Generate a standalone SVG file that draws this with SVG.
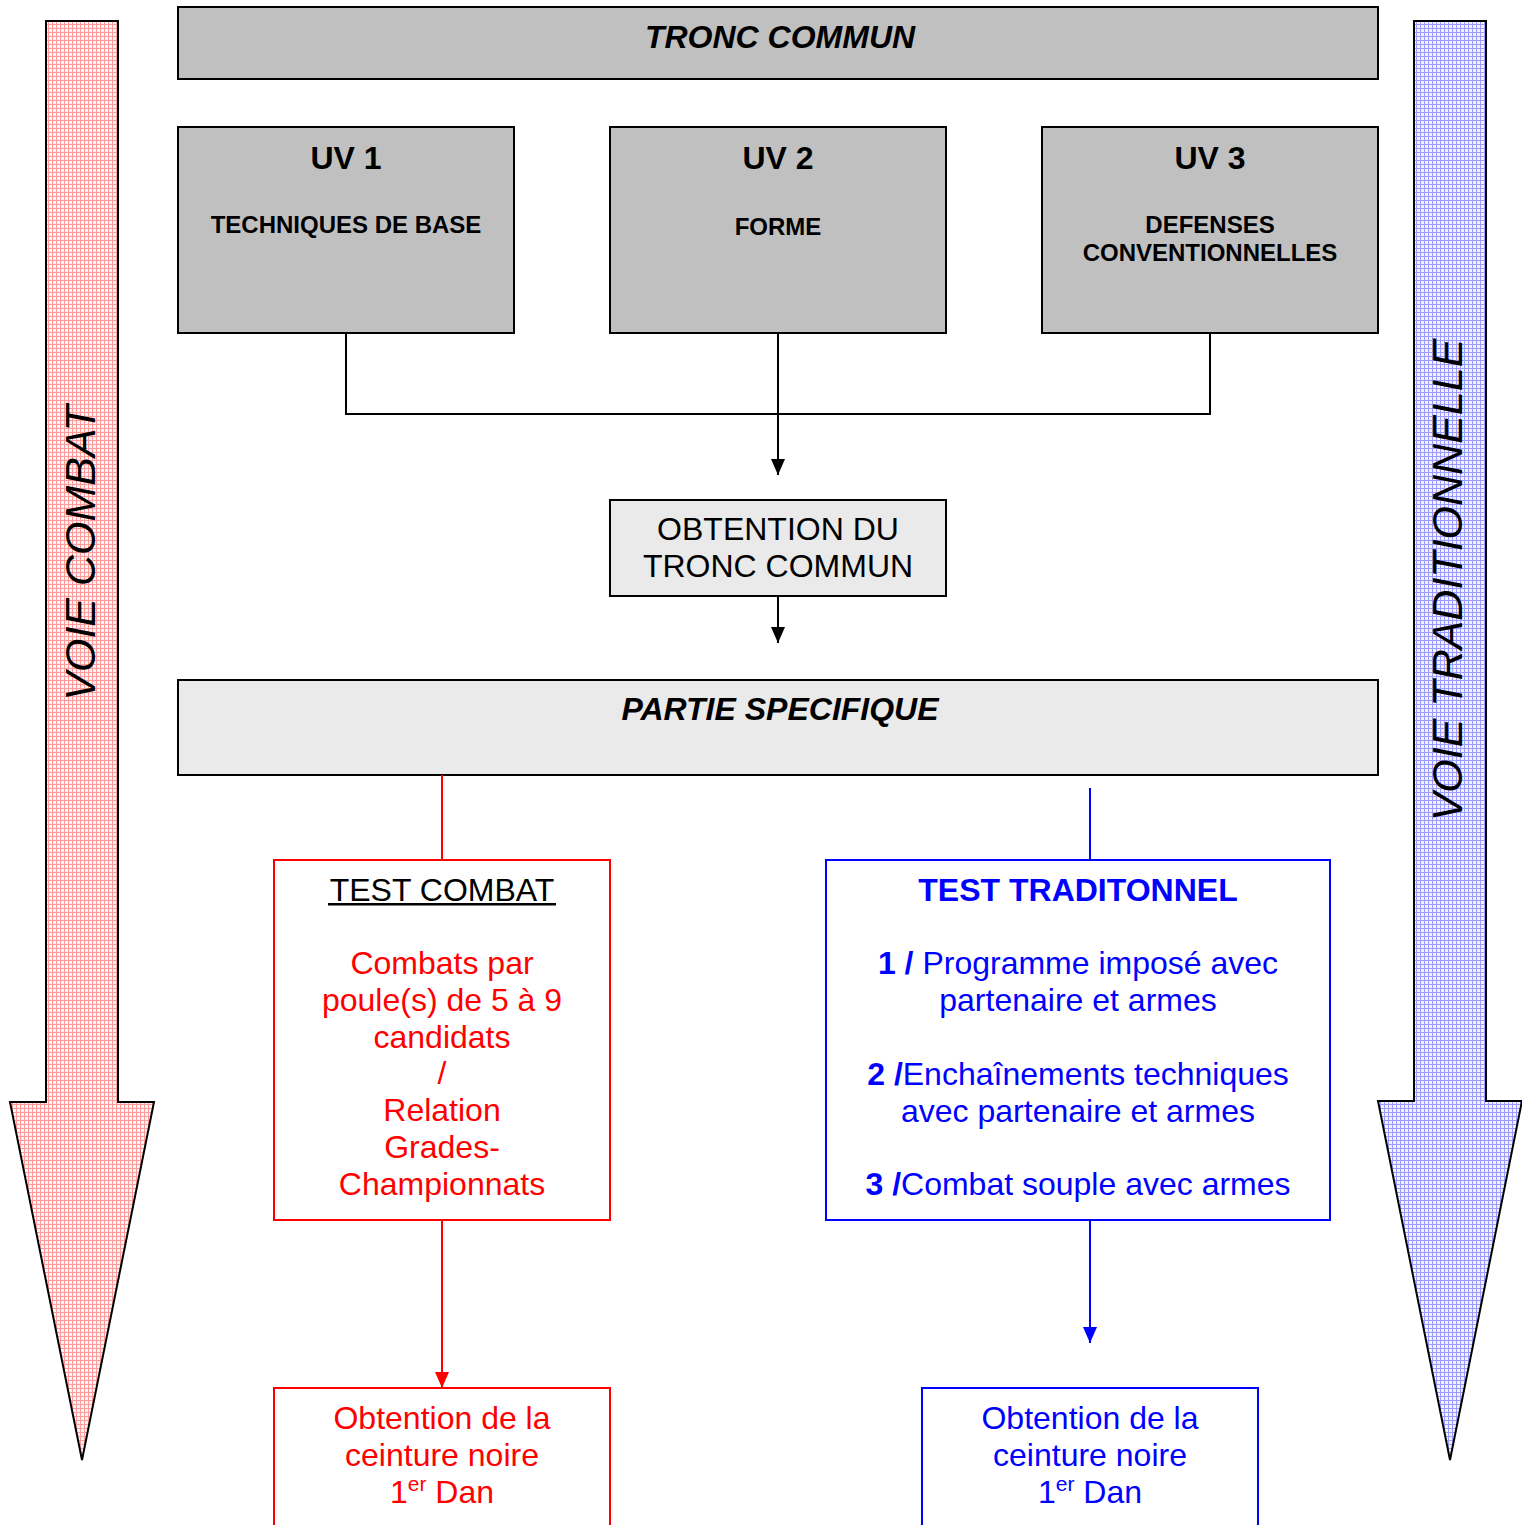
<svg xmlns="http://www.w3.org/2000/svg" width="1522" height="1525" viewBox="0 0 1522 1525">
<defs>
<pattern id="hatchR" width="4" height="4" patternUnits="userSpaceOnUse">
<rect width="4" height="4" fill="#fff2f2"/>
<rect x="0" y="0" width="4" height="1" fill="#ff9a9a"/>
<rect x="0" y="0" width="1" height="4" fill="#ff9a9a"/>
</pattern>
<pattern id="hatchB" width="4" height="4" patternUnits="userSpaceOnUse">
<rect width="4" height="4" fill="#f2f2ff"/>
<rect x="0" y="0" width="4" height="1" fill="#9a9aff"/>
<rect x="0" y="0" width="1" height="4" fill="#9a9aff"/>
</pattern>
<marker id="ak" markerWidth="14" markerHeight="16" refX="7" refY="16" markerUnits="userSpaceOnUse" viewBox="0 0 14 16">
<path d="M0,0 L14,0 L7,16 Z" fill="#000"/>
</marker>
<marker id="ar" markerWidth="14" markerHeight="16" refX="7" refY="16" markerUnits="userSpaceOnUse" viewBox="0 0 14 16">
<path d="M0,0 L14,0 L7,16 Z" fill="#ff0000"/>
</marker>
<marker id="ab" markerWidth="14" markerHeight="16" refX="7" refY="16" markerUnits="userSpaceOnUse" viewBox="0 0 14 16">
<path d="M0,0 L14,0 L7,16 Z" fill="#0000ff"/>
</marker>
</defs>
<style>
text{font-family:"Liberation Sans",Arial,sans-serif;text-anchor:middle}
.box{stroke:#000;stroke-width:2}
.gray{fill:#c0c0c0}
.light{fill:#eaeaea}
.b32{font-size:32px;font-weight:bold}
.bi32{font-size:32px;font-weight:bold;font-style:italic}
.b24{font-size:24px;font-weight:bold}
.r32{font-size:32px}
.red{fill:#ff0000}
.blue{fill:#0000ff}
.big{font-size:43px;font-style:italic;fill:#000}
</style>

<g id="voie-combat">
<path d="M46,21 L118,21 L118,1102 L154,1102 L82,1460 L10,1102 L46,1102 Z" fill="url(#hatchR)" stroke="#000" stroke-width="2"/>
<text class="big" transform="translate(95,553) rotate(-90)">VOIE COMBAT</text>
</g>

<g id="voie-traditionnelle">
<path d="M1414,21 L1486,21 L1486,1101 L1522,1101 L1450,1460 L1378,1101 L1414,1101 Z" fill="url(#hatchB)" stroke="#000" stroke-width="2"/>
<text class="big" transform="translate(1462,580) rotate(-90)">VOIE TRADITIONNELLE</text>
</g>

<g id="tronc-commun">
<rect class="box gray" x="178" y="7" width="1200" height="72"/>
<text class="bi32" x="780" y="48">TRONC COMMUN</text>
</g>

<g id="uv1">
<rect class="box gray" x="178" y="127" width="336" height="206"/>
<text class="b32" x="346" y="169">UV 1</text>
<text class="b24" x="346" y="233">TECHNIQUES DE BASE</text>
</g>

<g id="uv2">
<rect class="box gray" x="610" y="127" width="336" height="206"/>
<text class="b32" x="778" y="169">UV 2</text>
<text class="b24" x="778" y="235">FORME</text>
</g>

<g id="uv3">
<rect class="box gray" x="1042" y="127" width="336" height="206"/>
<text class="b32" x="1210" y="169">UV 3</text>
<text class="b24" x="1210" y="233">DEFENSES</text>
<text class="b24" x="1210" y="261">CONVENTIONNELLES</text>
</g>

<g id="obtention-tronc">
<rect class="box light" x="610" y="500" width="336" height="96"/>
<text class="r32" x="778" y="540">OBTENTION DU</text>
<text class="r32" x="778" y="577">TRONC COMMUN</text>
</g>

<g id="partie-specifique">
<rect class="box light" x="178" y="680" width="1200" height="95"/>
<text class="bi32" x="780" y="720">PARTIE SPECIFIQUE</text>
</g>

<g id="test-combat">
<rect x="274" y="860" width="336" height="360" fill="#fff" stroke="#ff0000" stroke-width="2"/>
<text class="r32" x="442" y="901">TEST COMBAT</text>
<rect x="328" y="903" width="228" height="2.5" fill="#000"/>
<text class="r32 red" x="442" y="974">Combats par</text>
<text class="r32 red" x="442" y="1011">poule(s) de 5 à 9</text>
<text class="r32 red" x="442" y="1048">candidats</text>
<text class="r32 red" x="442" y="1084">/</text>
<text class="r32 red" x="442" y="1121">Relation</text>
<text class="r32 red" x="442" y="1158">Grades-</text>
<text class="r32 red" x="442" y="1195">Championnats</text>
</g>

<g id="test-traditionnel">
<rect x="826" y="860" width="504" height="360" fill="#fff" stroke="#0000ff" stroke-width="2"/>
<text class="b32 blue" x="1078" y="901">TEST TRADITONNEL</text>
<text class="r32 blue" x="1078" y="974"><tspan font-weight="bold">1 / </tspan>Programme imposé avec</text>
<text class="r32 blue" x="1078" y="1011">partenaire et armes</text>
<text class="r32 blue" x="1078" y="1085"><tspan font-weight="bold">2 /</tspan>Enchaînements techniques</text>
<text class="r32 blue" x="1078" y="1122">avec partenaire et armes</text>
<text class="r32 blue" x="1078" y="1195"><tspan font-weight="bold">3 /</tspan>Combat souple avec armes</text>
</g>

<g id="obtention-combat">
<rect x="274" y="1388" width="336" height="150" fill="#fff" stroke="#ff0000" stroke-width="2"/>
<text class="r32 red" x="442" y="1429">Obtention de la</text>
<text class="r32 red" x="442" y="1466">ceinture noire</text>
<text class="r32 red" x="442" y="1503">1<tspan font-size="21" dy="-12">er</tspan><tspan dy="12"> Dan</tspan></text>
</g>

<g id="obtention-traditionnel">
<rect x="922" y="1388" width="336" height="150" fill="#fff" stroke="#0000ff" stroke-width="2"/>
<text class="r32 blue" x="1090" y="1429">Obtention de la</text>
<text class="r32 blue" x="1090" y="1466">ceinture noire</text>
<text class="r32 blue" x="1090" y="1503">1<tspan font-size="21" dy="-12">er</tspan><tspan dy="12"> Dan</tspan></text>
</g>

<g id="connectors" fill="none" stroke-width="2">
<polyline points="346,333 346,414 1210,414 1210,333" stroke="#000"/>
<line x1="778" y1="333" x2="778" y2="475" stroke="#000" marker-end="url(#ak)"/>
<line x1="778" y1="596" x2="778" y2="643" stroke="#000" marker-end="url(#ak)"/>
<line x1="442" y1="775" x2="442" y2="860" stroke="#ff0000"/>
<line x1="1090" y1="788" x2="1090" y2="860" stroke="#0000ff"/>
<line x1="442" y1="1220" x2="442" y2="1388" stroke="#ff0000" marker-end="url(#ar)"/>
<line x1="1090" y1="1220" x2="1090" y2="1343" stroke="#0000ff" marker-end="url(#ab)"/>
</g>
</svg>
